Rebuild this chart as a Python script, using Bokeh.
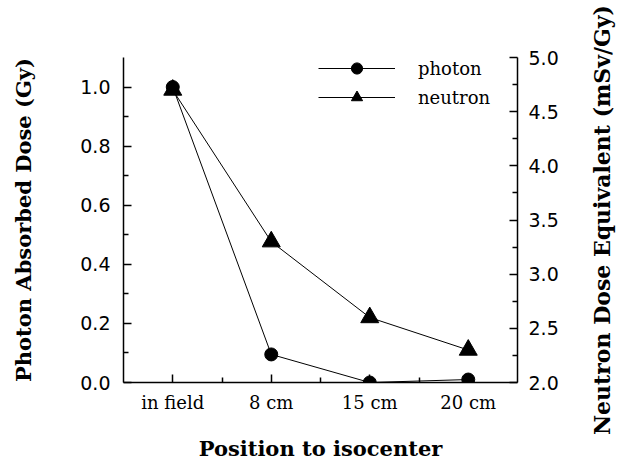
import math
from bokeh.plotting import figure
from bokeh.layouts import row
from bokeh.models import Range1d, LinearAxis, FixedTicker, Legend, LegendItem, PrintfTickFormatter
from bokeh.embed import file_html
from bokeh.resources import INLINE

categories = ["in field", "8 cm", "15 cm", "20 cm"]
photon = [1.0, 0.095, 0.0, 0.01]
neutron = [4.7, 3.3, 2.6, 2.3]

xpos = [i + 0.5 for i in range(len(categories))]

SERIF = "DejaVu Serif"
SANS = "DejaVu Sans"

p = figure(width=569, height=460, output_backend="svg", toolbar_location=None,
           x_range=Range1d(0, 4), y_range=Range1d(0, 1.1),
           min_border_left=123, min_border_right=52, min_border_top=57, min_border_bottom=78)
p.frame_width = 394
p.frame_height = 325
p.outline_line_color = None
p.xgrid.visible = False
p.ygrid.visible = False
p.background_fill_color = "white"
p.border_fill_color = "white"

p.extra_y_ranges = {"n": Range1d(2.0, 5.0)}

xa = p.xaxis[0]
xa.ticker = FixedTicker(ticks=xpos, minor_ticks=[1, 2, 3])
xa.major_label_overrides = {x: c for x, c in zip(xpos, categories)}
xa.axis_label = "Position to isocenter"

ya = p.yaxis[0]
ya.ticker = FixedTicker(ticks=[0, 0.2, 0.4, 0.6, 0.8, 1.0], minor_ticks=[0.1, 0.3, 0.5, 0.7, 0.9])
ya.axis_label = "Photon Absorbed Dose (Gy)"
ya.formatter = PrintfTickFormatter(format="%.1f")

ra = LinearAxis(y_range_name="n")
ra.ticker = FixedTicker(ticks=[2.0, 2.5, 3.0, 3.5, 4.0, 4.5, 5.0],
                        minor_ticks=[2.25, 2.75, 3.25, 3.75, 4.25, 4.75])
ra.formatter = PrintfTickFormatter(format="%.1f")
p.add_layout(ra, "right")

for ax in [xa, ya, ra]:
    ax.axis_line_color = "black"
    ax.axis_line_width = 1.5
    ax.major_tick_line_color = "black"
    ax.minor_tick_line_color = "black"
    ax.major_tick_line_width = 1.5
    ax.minor_tick_line_width = 1.5
    ax.major_tick_in = 8
    ax.major_tick_out = 0
    ax.minor_tick_in = 5
    ax.minor_tick_out = 0
    ax.major_label_text_color = "black"
    ax.axis_label_text_color = "black"
    ax.axis_label_text_font = SERIF
    ax.axis_label_text_font_style = "bold"
    ax.axis_label_text_font_size = "21px"

xa.major_label_text_font = SERIF
xa.major_label_text_font_size = "18px"
xa.major_label_standoff = 9
xa.axis_label_standoff = 20

for ax in [ya, ra]:
    ax.major_label_text_font = SANS
    ax.major_label_text_font_size = "19px"
ya.major_label_standoff = 13
ra.major_label_standoff = 11
ya.axis_label_standoff = 41

lp = p.line(xpos, photon, line_color="black", line_width=1)
cp = p.scatter(xpos, photon, marker="circle", size=13, fill_color="black", line_color="black")
ln = p.line(xpos, neutron, line_color="black", line_width=1, y_range_name="n")
tn = p.scatter(xpos, neutron, marker="triangle", size=18, fill_color="black", line_color="black",
               y_range_name="n")

legend = Legend(items=[LegendItem(label="photon", renderers=[lp, cp]),
                       LegendItem(label="neutron", renderers=[ln, tn])])
legend.border_line_color = None
legend.background_fill_alpha = 0
legend.label_text_font = SERIF
legend.label_text_font_size = "18px"
legend.label_text_color = "black"
legend.glyph_width = 77
legend.glyph_height = 28
legend.label_standoff = 23
legend.padding = 0
legend.spacing = 1
legend.margin = 0
legend.label_height = 28
p.add_layout(legend, "center")
legend.location = (195, 271)

# narrow companion figure carrying the right-hand axis title (reads bottom to top)
p2 = figure(width=52, height=460, output_backend="svg", toolbar_location=None,
            x_range=Range1d(0, 1), y_range=Range1d(0, 1), x_axis_location=None,
            min_border_left=48, min_border_right=0, min_border_top=57, min_border_bottom=78)
p2.frame_width = 4
p2.frame_height = 325
p2.outline_line_color = None
p2.xgrid.visible = False
p2.ygrid.visible = False
p2.background_fill_color = "white"
p2.border_fill_color = "white"
la = p2.yaxis[0]
la.axis_label = "Neutron Dose Equivalent (mSv/Gy)"
la.ticker = FixedTicker(ticks=[])
la.axis_line_color = None
la.major_tick_line_color = None
la.minor_tick_line_color = None
la.major_label_text_font_size = "0px"
la.axis_label_text_font = SERIF
la.axis_label_text_font_style = "bold"
la.axis_label_text_font_size = "22px"
la.axis_label_text_color = "black"
la.axis_label_standoff = 3

layout = row(p, p2)
open("out.html", "w").write(file_html(layout, INLINE))
